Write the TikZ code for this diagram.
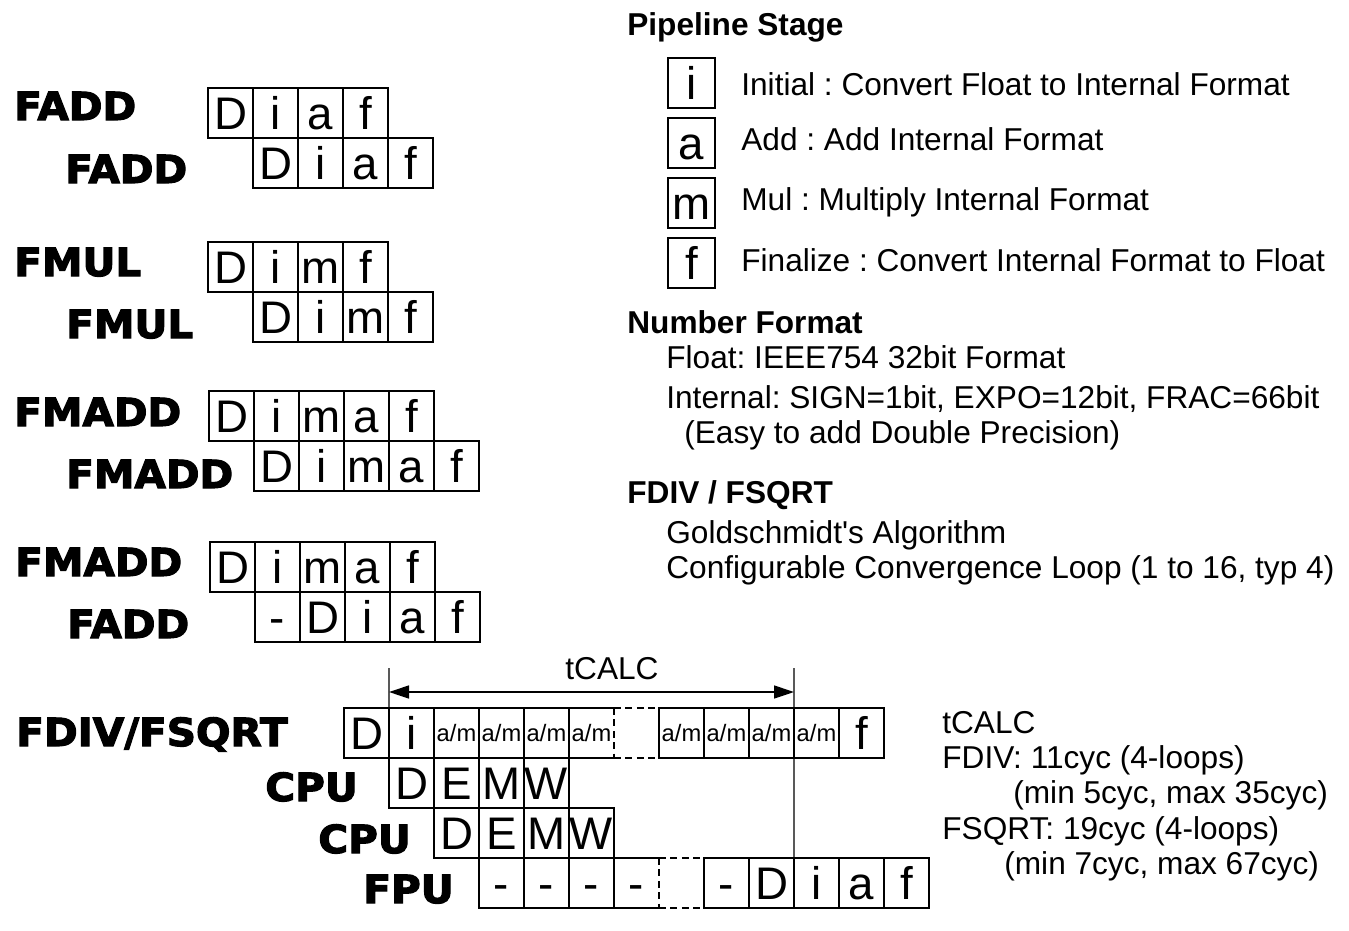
\documentclass[tikz,border=0pt]{standalone}
\usepackage{fontspec}
\setmainfont{Liberation Sans}
\newfontfamily\straightfont{Liberation Sans}
\newfontfamily\heavyfont[FakeStretch=1.05,BoldFeatures={FakeBold=3}]{DejaVu Sans}
\usetikzlibrary{arrows.meta}
\frenchspacing

\tikzset{
  cell/.style={draw, line width=1.1pt, minimum width=0.9cm, minimum height=1cm,
    inner sep=0pt, outer sep=0pt, text height=18.6pt, text depth=0pt, font=\fontsize{26}{28}\selectfont},
  amcell/.style={cell, text height=9.6pt, font=\fontsize{13.5}{15}\selectfont},
  legbox/.style={cell, minimum width=0.94cm},
  opname/.style={anchor=base west, inner sep=0pt, font=\heavyfont\bfseries\fontsize{22}{26}\selectfont},
  txt/.style={anchor=base west, inner sep=0pt, font=\fontsize{18}{22}\selectfont},
  head/.style={txt, font=\bfseries\fontsize{18}{22}\selectfont},
  gapline/.style={line width=1.1pt, dash pattern=on 4pt off 2.5pt},
}

\begin{document}
\begin{tikzpicture}[x=0.02cm, y=-0.02cm]
    \useasboundingbox (0,0) rectangle (1349,930);

    % FADD -> FADD
    \node[opname] (fadd1) at (14,120) {FADD};
    \foreach \t [count=\k] in {D,i,a,f}
        \node[cell] (fadda\k) at ({185.5+45*\k},113) {\t};
    \node[opname] (fadd2) at (65,183) {FADD};
    \foreach \t [count=\k] in {D,i,a,f}
        \node[cell] (faddb\k) at ({230.5+45*\k},163) {\t};

    % FMUL -> FMUL
    \node[opname] (fmul1) at (14,276) {FMUL};
    \foreach \t [count=\k] in {D,i,m,f}
        \node[cell] (fmula\k) at ({185.5+45*\k},267) {\t};
    \node[opname] (fmul2) at (66,338) {FMUL};
    \foreach \t [count=\k] in {D,i,m,f}
        \node[cell] (fmulb\k) at ({230.5+45*\k},317) {\t};

    % FMADD -> FMADD
    \node[opname] (fmadd1) at (14,426) {FMADD};
    \foreach \t [count=\k] in {D,i,m,a,f}
        \node[cell] (fmadda\k) at ({186.5+45*\k},416) {\t};
    \node[opname] (fmadd2) at (66,488) {FMADD};
    \foreach \t [count=\k] in {D,i,m,a,f}
        \node[cell] (fmaddb\k) at ({231.5+45*\k},466) {\t};

    % FMADD -> FADD
    \node[opname] (fmadd3) at (15,576) {FMADD};
    \foreach \t [count=\k] in {D,i,m,a,f}
        \node[cell] (fmaddc\k) at ({187.5+45*\k},567) {\t};
    \node[opname] (fadd3) at (67,638) {FADD};
    \foreach \t [count=\k] in {-,D,i,a,f}
        \node[cell] (faddc\k) at ({232.5+45*\k},617) {\t};

    % FDIV/FSQRT with CPU / FPU
    \node[opname] (fdiv) at (16,746) {FDIV/FSQRT};
    \node[cell] (dv1) at (366.5,733) {D};
    \node[cell] (dv2) at (411.5,733) {i};
    \foreach \k in {3,4,5}
        \node[amcell] (dv\k) at ({321.5+45*\k},733) {a/m};
    \node[amcell, draw=none] (dv6) at (591.5,733) {a/m};
    \foreach \k in {1,...,4}
        \node[amcell] (dw\k) at ({636.5+45*\k},733) {a/m};
    \node[cell] (dw5) at (861.5,733) {f};
    \draw[line width=1.1pt] (dv6.north east) -- (dv6.north west) -- (dv6.south west) -- (dv6.south east);
    \draw[gapline] (dv6.north east) -- (dv6.south east)
        (dv6.north east) -- (dw1.north west) (dv6.south east) -- (dw1.south west);

    \node[opname] (cpu1) at (265,801) {CPU};
    \foreach \t [count=\k] in {D,E,M,W}
        \node[cell] (cpua\k) at ({366.5+45*\k},783) {\t};
    \node[opname] (cpu2) at (318,853) {CPU};
    \foreach \t [count=\k] in {D,E,M,W}
        \node[cell] (cpub\k) at ({411.5+45*\k},833) {\t};

    \node[opname] (fpu) at (363,903) {FPU};
    \foreach \k in {1,2,3}
        \node[cell] (fp\k) at ({456.5+45*\k},883) {-};
    \node[cell, draw=none] (fp4) at (636.5,883) {-};
    \foreach \t [count=\k] in {-,D,i,a,f}
        \node[cell] (fq\k) at ({681.5+45*\k},883) {\t};
    \draw[line width=1.1pt] (fp4.north east) -- (fp4.north west) -- (fp4.south west) -- (fp4.south east);
    \draw[gapline] (fp4.north east) -- (fp4.south east)
        (fp4.north east) -- (fq1.north west) (fp4.south east) -- (fq1.south west);

    % tCALC span
    \coordinate (tl) at (389,668);
    \coordinate (tr) at (794,668);
    \coordinate (al) at (389,692);
    \coordinate (ar) at (794,692);
    \draw[line width=0.8pt] (tl) -- (dv2.north west);
    \draw[line width=0.8pt] (tr) -- (fq2.north east);
    \draw[line width=0.8pt, {Triangle[length=0.4cm,width=0.26cm]}-{Triangle[length=0.4cm,width=0.26cm]}] (al) -- (ar);
    \node[txt, anchor=base] (tcalc) at (612,679) {tCALC};

    % legend
    \node[head] (stagehd) at (627,35) {Pipeline Stage};
    \node[legbox] (legi) at (691.5,83) {i};
    \node[legbox] (lega) at (691.5,143) {a};
    \node[legbox] (legm) at (691.5,203) {m};
    \node[legbox] (legf) at (691.5,263) {f};
    \node[txt] (txti) at (741,95) {Initial : Convert Float to Internal Format};
    \node[txt] (txta) at (741,150) {Add : Add Internal Format};
    \node[txt] (txtm) at (741,210) {Mul : Multiply Internal Format};
    \node[txt] (txtf) at (741,271) {Finalize : Convert Internal Format to Float};

    \node[head] (numhd) at (627,333) {Number Format};
    \node[txt] (numa) at (666,368) {Float: IEEE754 32bit Format};
    \node[txt] (numb) at (666,408) {Internal: SIGN=1bit, EXPO=12bit, FRAC=66bit};
    \node[txt] (numc) at (684,443) {(Easy to add Double Precision)};

    \node[head] (divhd) at (627,503) {FDIV / FSQRT};
    \node[txt] (diva) at (666,543) {Goldschmidt{\straightfont'}s Algorithm};
    \node[txt] (divb) at (666,578) {Configurable Convergence Loop (1 to 16, typ 4)};

    % cycle counts
    \node[txt] (cyca) at (942,733) {tCALC};
    \node[txt] (cycb) at (942,768) {FDIV: 11cyc (4-loops)};
    \node[txt] (cycc) at (1013,803) {(min 5cyc, max 35cyc)};
    \node[txt] (cycd) at (942,839) {FSQRT: 19cyc (4-loops)};
    \node[txt] (cyce) at (1004,874) {(min 7cyc, max 67cyc)};
\end{tikzpicture}
\end{document}
